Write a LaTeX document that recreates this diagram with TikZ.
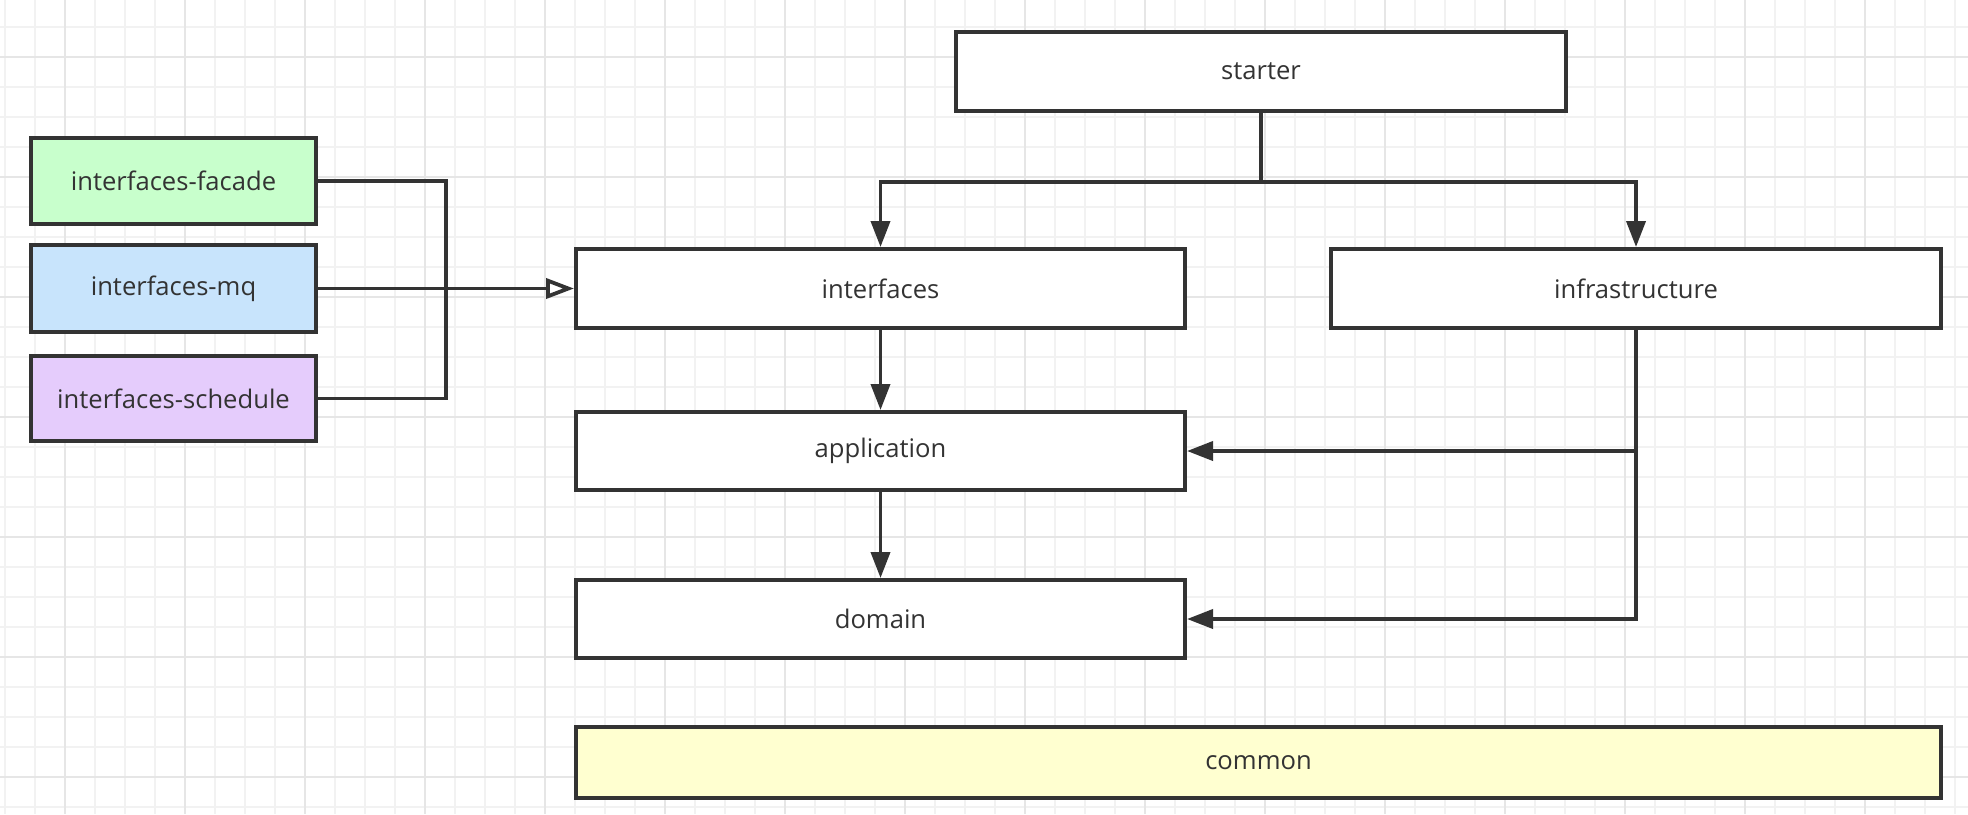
\documentclass[tikz,border=0pt]{standalone}
\usepackage{fontspec}
\setmainfont{Open Sans}
\usetikzlibrary{arrows.meta}
\definecolor{ink}{HTML}{333333}
\definecolor{gminor}{HTML}{F2F2F2}
\definecolor{gmajor}{HTML}{E6E6E6}
\definecolor{cgreen}{HTML}{C8FFCC}
\definecolor{cblue}{HTML}{C8E4FC}
\definecolor{cpurple}{HTML}{E5CCFC}
\definecolor{cyellow}{HTML}{FFFFD0}
\begin{document}
\begin{tikzpicture}[x=0.5pt,y=-0.5pt,
  box/.style={draw=ink, line width=1.9pt, fill=white, text=ink,
    font=\fontsize{12.8}{15}\selectfont, inner sep=0pt},
  conn/.style={draw=ink, line width=1.9pt},
  arr/.style={conn, -{Triangle[length=13pt,width=9.5pt]}},
  oarr/.style={conn, -{Triangle[open,length=14pt,width=10pt]}},
  gmin/.style={draw=gminor, line width=1pt},
  gmaj/.style={draw=gmajor, line width=1pt}]
\fill[white] (0,0) rectangle (1968,814);
\useasboundingbox (0,0) rectangle (1968,814);
% grid
\foreach \i in {0,...,65} {\draw[gmin] ({5+30*\i},0) -- ({5+30*\i},814);}
\foreach \i in {0,...,26} {\draw[gmin] (0,{26.7+30*\i}) -- (1968,{26.7+30*\i});}
\foreach \i in {0,...,16} {\draw[gmaj] ({65+120*\i},0) -- ({65+120*\i},814);}
\foreach \i in {0,...,6} {\draw[gmaj] (0,{56.7+120*\i}) -- (1968,{56.7+120*\i});}
% nodes
\node[box, minimum width=305.1pt, minimum height=39.6pt] (starter) at (1261,71.5) {\raisebox{-1pt}{starter}};
\node[box, fill=cgreen, minimum width=142.6pt, minimum height=43.1pt] (facade) at (173.5,181) {\raisebox{-1pt}{interfaces-facade}};
\node[box, fill=cblue, minimum width=142.6pt, minimum height=43.6pt] (mq) at (173.5,288.5) {\raisebox{-1pt}{interfaces-mq}};
\node[box, fill=cpurple, minimum width=142.6pt, minimum height=42.6pt] (schedule) at (173.5,398.5) {\raisebox{-1pt}{interfaces-schedule}};
\node[box, minimum width=304.6pt, minimum height=39.6pt] (interfaces) at (880.5,288.5) {\raisebox{-1pt}{interfaces}};
\node[box, minimum width=305.1pt, minimum height=39.6pt] (infra) at (1636,288.5) {\raisebox{-1pt}{infrastructure}};
\node[box, minimum width=304.6pt, minimum height=39.1pt] (app) at (880.5,451) {\raisebox{-1pt}{application}};
\node[box, minimum width=304.6pt, minimum height=39.1pt] (domain) at (880.5,619) {\raisebox{-1pt}{domain}};
\node[box, fill=cyellow, minimum width=682.6pt, minimum height=35.6pt] (common) at (1258.5,762.5) {\raisebox{-1pt}{common}};
% connectors
\coordinate (split) at (1261,182);
\coordinate (brk) at (446,181);
\draw[conn] (starter.south) -- (split);
\draw[arr] (split) -| (interfaces.north);
\draw[arr] (split) -| (infra.north);
\draw[arr] (interfaces.south) -- (app.north);
\draw[arr] (app.south) -- (domain.north);
\draw[arr] (infra.south) |- (domain.east);
\draw[arr] (infra.south |- app.east) -- (app.east);
\draw[conn] (facade.east) -- (facade.east -| brk) |- (schedule.east);
\draw[oarr] (mq.east) -- (interfaces.west);
\end{tikzpicture}
\end{document}
